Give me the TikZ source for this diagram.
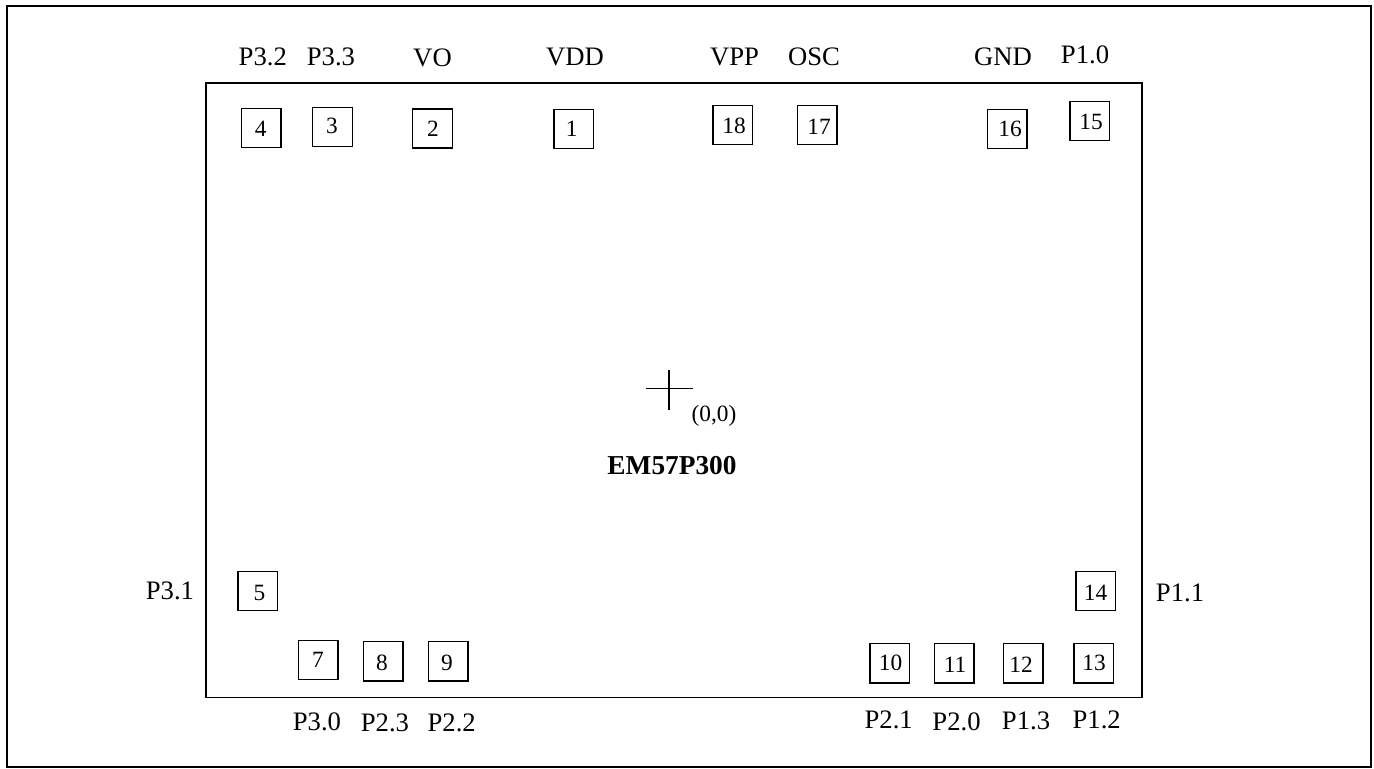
\documentclass[tikz,border=0pt]{standalone}
\usepackage{fontspec}
\setmainfont{Liberation Serif}
\tikzset{
 pad/.style={draw=black,line width=1.05pt,minimum width=29.7pt,minimum height=29.4pt,inner sep=0pt},
 num/.style={inner sep=0pt,font=\fontsize{17.5}{19}\selectfont},
 lab/.style={inner sep=0pt,anchor=base,font=\fontsize{20}{22}\selectfont},
 frame/.style={line width=1.15pt},
}
\begin{document}
\begin{tikzpicture}[x=0.75pt,y=-0.75pt]
\useasboundingbox (0,0) rectangle (1374,768);
\draw[line width=1.3pt] (7,5.7) rectangle (1370.7,767);
\draw[frame] (206,83) rectangle (1142,697.5);
\foreach \n/\t/\x/\y/\tx/\ty in {
 a/4/261.3/128/260.7/128.7,
 b/3/332.5/127/332/126.3,
 c/2/432.5/128.5/433/129,
 d/1/573.7/129/571.7/129,
 e/18/732.7/125/734/126,
 f/17/817/125/819/127,
 g/16/1007.3/129/1010/129,
 h/15/1089.7/121/1091/122,
 i/5/257.7/591/259.5/593,
 j/7/318.3/660/318/660,
 k/8/383.3/661.3/382/662.5,
 l/9/448/661.3/447/662.5,
 m/10/889.7/663.3/890.5/662.5,
 n/11/954.3/663.3/955/665,
 o/12/1023/663.3/1021/665,
 p/13/1093.7/663.3/1094/662.5,
 q/14/1095.7/591/1095.5/593}{
  \node[pad] (\n) at (\x,\y) {};
  \node[num] (t\n) at (\tx,\ty) {\t};
}
\foreach \n/\t/\x/\y in {
 la/P3.2/262.8/65.7,lb/P3.3/331/65.7,lc/VO/432.5/66,ld/VDD/575/65,le/VPP/734.6/65,lf/OSC/814/65,
 lg/GND/1003/65,lh/P1.0/1085/63.3,li/P3.1/170/599.3,lj/P3.0/317/730,lk/P2.3/385/731.7,ll/P2.2/451.7/731.7,
 lm/P2.1/888.7/728.3,ln/P2.0/956.5/730,lo/P1.3/1026/729,lp/P1.2/1096.7/728.3,lq/P1.1/1180/601.7}
  \node[lab] (\n) at (\x,\y) {\t};
\coordinate (c1) at (646,388.3);\coordinate (c2) at (693,388.3);\coordinate (c3) at (669,370);\coordinate (c4) at (669,410);
\draw[frame] (c1)--(c2) (c3)--(c4);
\node[lab,font=\fontsize{17.5}{19}\selectfont] (org) at (714,421) {(0,0)};
\node[lab,font=\fontsize{20.5}{22}\selectfont\bfseries] (title) at (672,474.3) {EM57P300};
\end{tikzpicture}
\end{document}
